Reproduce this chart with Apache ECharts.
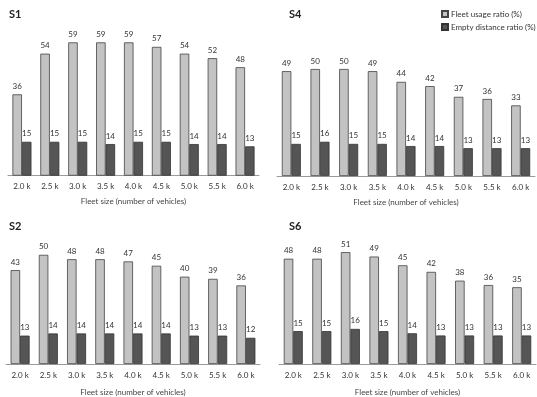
<!DOCTYPE html>
<html>
<head>
<meta charset="utf-8">
<script src="https://cdn.jsdelivr.net/npm/echarts@6/dist/echarts.min.js"></script>
<style>
  html, body { margin: 0; padding: 0; background: #fff; }
  #chart { width: 537px; height: 397px; }
</style>
</head>
<body>
<div id="chart"></div>
<script>
var categories = ['2.0 k', '2.5 k', '3.0 k', '3.5 k', '4.0 k', '4.5 k', '5.0 k', '5.5 k', '6.0 k'];

var s1Fleet = [36, 54, 59, 59, 59, 57, 54, 52, 48];
var s1Empty = [15, 15, 15, 14, 15, 15, 14, 14, 13];
var s4Fleet = [49, 50, 50, 49, 44, 42, 37, 36, 33];
var s4Empty = [15, 16, 15, 15, 14, 14, 13, 13, 13];
var s2Fleet = [43, 50, 48, 48, 47, 45, 40, 39, 36];
var s2Empty = [13, 14, 14, 14, 14, 14, 13, 13, 12];
var s6Fleet = [48, 48, 51, 49, 45, 42, 38, 36, 35];
var s6Empty = [15, 15, 16, 15, 14, 13, 13, 13, 13];

var panelNames = ['S1', 'S4', 'S2', 'S6'];
var fleetName = 'Fleet usage ratio (%)';
var emptyName = 'Empty distance ratio (%)';

var dom = document.getElementById('chart');
var myChart = echarts.init(dom, null, { renderer: 'canvas' });

var font = 'Lato, "Open Sans", sans-serif';

// panel layout: [left, top, width, height, yMax, nameGap, titleLeft, titleTop]
var panels = [
  { data: [s1Fleet, s1Empty], left: 8, top: 17.5, width: 251, height: 158.2, max: 70, nameGap: 22, tl: 4, tt: 4 },
  { data: [s4Fleet, s4Empty], left: 277, top: 47.6, width: 258, height: 128.4, max: 60, nameGap: 22, tl: 284, tt: 4 },
  { data: [s2Fleet, s2Empty], left: 6, top: 233, width: 254, height: 132.6, max: 60, nameGap: 24, tl: 4, tt: 216 },
  { data: [s6Fleet, s6Empty], left: 279, top: 232.4, width: 257, height: 133.2, max: 60, nameGap: 24, tl: 284, tt: 216 }
];

var grids = [], xAxes = [], yAxes = [], series = [], titles = [];

panels.forEach(function (p, i) {
  titles.push({
    text: panelNames[i],
    left: p.tl,
    top: p.tt,
    textStyle: { fontFamily: font, fontSize: 11, fontWeight: 'bold', color: '#222' }
  });
  grids.push({ left: p.left, top: p.top, width: p.width, height: p.height });
  xAxes.push({
    type: 'category',
    gridIndex: i,
    data: categories,
    name: 'Fleet size (number of vehicles)',
    nameLocation: 'middle',
    nameGap: p.nameGap,
    nameTextStyle: { fontFamily: font, fontSize: 8, color: '#444' },
    axisLine: { lineStyle: { color: '#9a9a9a', width: 1 } },
    axisTick: { show: false },
    axisLabel: { fontFamily: font, fontSize: 8, color: '#333', margin: 7 }
  });
  yAxes.push({
    type: 'value',
    gridIndex: i,
    min: 0,
    max: p.max,
    show: false,
    splitLine: { show: false }
  });
  series.push({
    name: fleetName,
    type: 'bar',
    xAxisIndex: i,
    yAxisIndex: i,
    data: p.data[0],
    barWidth: 9.5,
    barGap: '0%',
    itemStyle: { color: '#c3c3c3', borderColor: '#444', borderWidth: 0.8 },
    label: { show: true, position: 'top', distance: 4, fontFamily: font, fontSize: 8, color: '#333' }
  });
  series.push({
    name: emptyName,
    type: 'bar',
    xAxisIndex: i,
    yAxisIndex: i,
    data: p.data[1],
    barWidth: 9.5,
    barGap: '0%',
    itemStyle: { color: '#555555', borderColor: '#333', borderWidth: 0.8 },
    label: { show: true, position: 'top', distance: 4, fontFamily: font, fontSize: 8, color: '#333' }
  });
});

var option = {
  backgroundColor: '#fff',
  animation: false,
  title: titles,
  legend: {
    data: [fleetName, emptyName],
    orient: 'vertical',
    left: 436,
    top: 5,
    itemWidth: 6,
    itemHeight: 6,
    itemGap: 5,
    icon: 'rect',
    textStyle: { fontFamily: font, fontSize: 8, color: '#333', padding: [0, 0, 0, -2] }
  },
  grid: grids,
  xAxis: xAxes,
  yAxis: yAxes,
  series: series
};

myChart.setOption(option);
window.addEventListener('resize', myChart.resize);
</script>
</body>
</html>
